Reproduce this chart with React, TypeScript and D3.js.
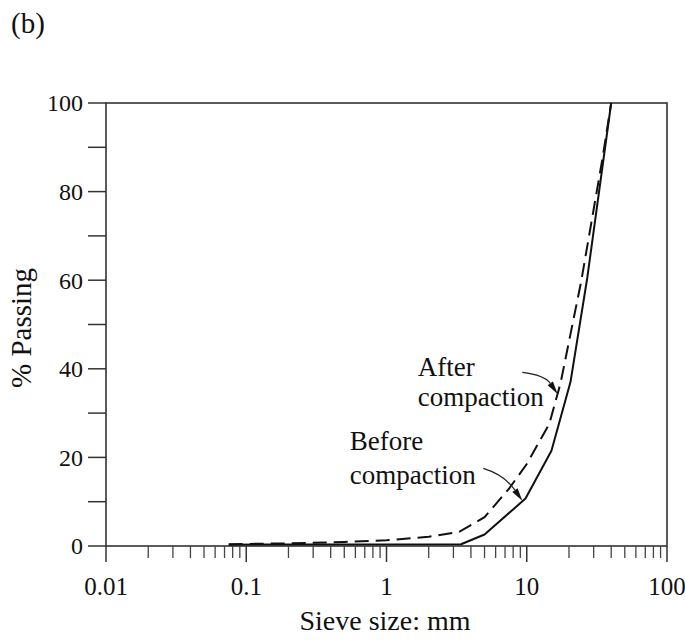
import React from "react";
import * as d3 from "d3";

const beforeSize = [0.075, 3.4, 5, 9.8, 15, 20.5, 27, 40];
const beforePass = [0.3, 0.4, 2.6, 10.7, 21.5, 37, 60.5, 100];
const afterSize = [0.075, 0.2, 0.5, 1, 2, 3.3, 5, 7.5, 10, 14.5, 17.4, 24.4, 34.8, 40];
const afterPass = [0.4, 0.6, 0.9, 1.3, 2.1, 3.2, 6.5, 13, 18.5, 27.6, 36.7, 59.6, 87.8, 100];
const xTickLabels = ["0.01", "0.1", "1", "10", "100"];
const xTickValues = [0.01, 0.1, 1, 10, 100];
const yTickValues = [0, 20, 40, 60, 80, 100];

const W = 685, H = 642;
const M = { left: 106, right: 667, top: 103, bottom: 546 };

export default function App() {
  const x = d3.scaleLog().domain([0.01, 100]).range([M.left, M.right]);
  const y = d3.scaleLinear().domain([0, 100]).range([M.bottom, M.top]);
  const line = d3.line<[number, number]>().x(d => x(d[0])).y(d => y(d[1]));
  const before = beforeSize.map((s, i) => [s, beforePass[i]] as [number, number]);
  const after = afterSize.map((s, i) => [s, afterPass[i]] as [number, number]);

  const minor: number[] = [];
  for (let e = -2; e < 2; e++) for (let k = 2; k <= 9; k++) minor.push(k * Math.pow(10, e));
  const yMinor = d3.range(10, 100, 20);

  const font = "'Liberation Serif', 'Times New Roman', serif";
  const fs = 25;
  const fsA = 27;

  const arrow = (start: [number, number], ctrl: [number, number], tip: [number, number]) => {
    const sx = x(start[0]), sy = y(start[1]);
    const cx = x(ctrl[0]), cy = y(ctrl[1]);
    const tx = x(tip[0]), ty = y(tip[1]);
    const ang = Math.atan2(ty - cy, tx - cx);
    const L = 13, w = 3.2;
    const bx = tx - L * Math.cos(ang), by = ty - L * Math.sin(ang);
    const px = -Math.sin(ang) * w, py = Math.cos(ang) * w;
    return (
      <g>
        <path d={`M${sx},${sy} Q${cx},${cy} ${bx},${by}`} fill="none" stroke="#222" strokeWidth={1.3} />
        <path d={`M${tx},${ty} L${bx + px},${by + py} L${bx - px},${by - py} Z`} fill="#111" />
      </g>
    );
  };

  return (
    <svg width={W} height={H} style={{ position: "absolute", left: 0, top: 0, background: "#fff" }}
      fontFamily={font}>
      <text x={11} y={33} fontSize={29} fill="#111">(b)</text>
      {/* frame */}
      <rect x={M.left} y={M.top} width={M.right - M.left} height={M.bottom - M.top}
        fill="none" stroke="#333" strokeWidth={1.6} />
      {/* y ticks */}
      {yTickValues.map(v => (
        <g key={"y" + v}>
          <line x1={M.left - 18} x2={M.left} y1={y(v)} y2={y(v)} stroke="#333" strokeWidth={1.5} />
          <text x={83} y={y(v)} dy="0.35em" textAnchor="end" fontSize={24} fill="#111">{v}</text>
        </g>
      ))}
      {yMinor.map(v => (
        <line key={"ym" + v} x1={M.left - 18} x2={M.left} y1={y(v)} y2={y(v)} stroke="#333" strokeWidth={1.5} />
      ))}
      {/* x ticks */}
      {xTickValues.map((v, i) => (
        <g key={"x" + v}>
          <line x1={x(v)} x2={x(v)} y1={M.bottom} y2={M.bottom + 16} stroke="#333" strokeWidth={1.5} />
          <text x={x(v)} y={595} textAnchor="middle" fontSize={fs} fill="#111">{xTickLabels[i]}</text>
        </g>
      ))}
      {minor.map(v => (
        <line key={"xm" + v} x1={x(v)} x2={x(v)} y1={M.bottom} y2={M.bottom + 12} stroke="#444" strokeWidth={1.3} />
      ))}
      <text x={385} y={630} textAnchor="middle" fontSize={28} fill="#111">Sieve size: mm</text>
      <text transform={`translate(31,${328}) rotate(-90)`} textAnchor="middle" fontSize={29} fill="#111">% Passing</text>
      {/* curves */}
      <path d={line(before) || ""} fill="none" stroke="#111" strokeWidth={2} strokeLinejoin="round" />
      <path d={line(after) || ""} fill="none" stroke="#111" strokeWidth={2} strokeDasharray="14,7" />
      {/* annotations */}
      <text x={x(1.67)} y={y(38.4)} fontSize={fsA} fill="#111">After</text>
      <text x={x(1.67)} y={y(31.6)} fontSize={fsA} fill="#111">compaction</text>
      <text x={x(0.547)} y={y(21.6)} fontSize={fsA} fill="#111">Before</text>
      <text x={x(0.547)} y={y(13.9)} fontSize={fsA} fill="#111">compaction</text>
      {arrow([9.3, 39.2], [13.4, 38.6], [16.6, 34.3])}
      {arrow([4.9, 17.5], [6.95, 16], [9.3, 10.2])}
    </svg>
  );
}
